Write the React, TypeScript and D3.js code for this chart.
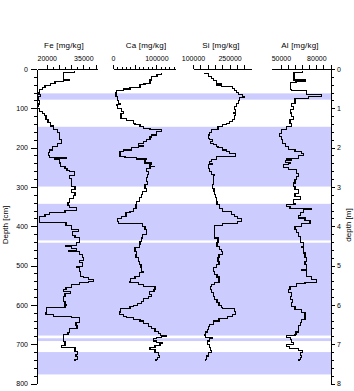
import { useEffect, useRef } from 'react';
import * as d3 from 'd3';

type Sample = [number, number]; // [depth cm, mg/kg]

const feProfile: Sample[] = [
  [6, 31200], [8, 26800], [27, 29500], [30, 26800], [32, 23400], [38, 21600], [43, 19300], [48, 18300],
  [53, 16900], [61, 16400], [66, 17600], [71, 16400], [81, 17200], [89, 16400], [96, 16300], [101, 17200],
  [107, 18300], [114, 18900], [119, 19700], [129, 20500], [137, 21600], [145, 22700], [155, 24300], [162, 25100],
  [173, 25400], [180, 26100], [190, 24500], [198, 22400], [206, 21300], [213, 20600], [221, 21300], [226, 27900],
  [228, 23400], [231, 25400], [239, 25800], [249, 27500], [254, 28300], [259, 29500], [261, 31300], [272, 29500],
  [279, 30200], [299, 31600], [307, 30000], [315, 31600], [322, 30800], [330, 29500], [340, 28700], [348, 29500],
  [352, 32300], [360, 27500], [365, 21300], [371, 19300], [376, 16900], [391, 27900], [398, 30200], [409, 32900],
  [414, 30400], [424, 31600], [429, 33600], [442, 32300], [449, 27900], [451, 30200], [457, 32300], [462, 29100],
  [464, 33600], [472, 34500], [480, 34900], [487, 33600], [492, 34700], [503, 32400], [506, 33600], [515, 33900],
  [527, 35000], [530, 37000], [536, 39100], [541, 37000], [544, 33500], [548, 30200], [556, 27900], [561, 26700],
  [566, 29800], [571, 27500], [579, 26800], [591, 27500], [599, 28200], [602, 27500], [607, 20000], [619, 19700],
  [624, 22700], [629, 30200], [633, 33600], [640, 33500], [645, 32000], [652, 32400], [660, 29500], [670, 28700],
  [675, 26800], [693, 27500], [703, 26100], [708, 31600], [718, 32500], [726, 32000], [731, 32500], [739, 31600],
  [743, 31600],
];

const caProfile: Sample[] = [
  [9, 112300], [15, 101500], [20, 89200], [28, 85300], [36, 69900], [38, 73800], [40, 62300], [46, 39200],
  [51, 23800], [55, 8500], [60, 6900], [70, 9900], [79, 12200], [87, 16100], [91, 8500], [93, 11000],
  [100, 20100], [108, 23800], [113, 18500], [125, 31600], [131, 46800], [138, 50700], [142, 62300], [146, 69900],
  [151, 85300], [155, 112300], [159, 100800], [168, 89200], [173, 85300], [180, 77700], [184, 69900], [190, 58300],
  [195, 70000], [197, 58300], [199, 43100], [206, 23800], [210, 16100], [222, 27700], [225, 54700], [227, 77700],
  [229, 54700], [231, 73800], [239, 89200], [244, 85300], [247, 95000], [249, 85300], [252, 77700], [261, 81400],
  [269, 80000], [277, 77700], [286, 80000], [294, 73800], [303, 77700], [311, 68500], [320, 66200], [328, 60600],
  [337, 54700], [345, 53000], [354, 46800], [362, 39200], [366, 30000], [375, 20100], [381, 9900], [387, 12200],
  [392, 68500], [400, 73800], [409, 77000], [421, 68500], [430, 66200], [438, 62300], [447, 60600], [455, 50700],
  [464, 54700], [472, 53000], [480, 58300], [489, 60600], [497, 64600], [506, 66200], [514, 69900], [518, 60600],
  [527, 50700], [534, 40800], [540, 39200], [544, 58300], [548, 69900], [553, 96900], [561, 94500], [565, 83700],
  [574, 89200], [579, 81400], [584, 69900], [591, 66200], [596, 56000], [602, 46800], [605, 39200], [610, 17800],
  [618, 14500], [624, 23800], [630, 31600], [633, 46800], [637, 62300], [641, 69900], [647, 81400], [654, 89200],
  [661, 96900], [667, 104500], [673, 110000], [679, 123800], [681, 112300], [684, 100800], [686, 92900], [692, 100800],
  [696, 115000], [698, 108400], [703, 96900], [709, 85300], [713, 96900], [720, 104500], [728, 106800], [734, 102000],
  [740, 99200], [743, 99200],
];

const siProfile: Sample[] = [
  [9, 148600], [12, 162000], [20, 175800], [24, 182300], [30, 196000], [38, 216300], [40, 196000], [41, 216300],
  [45, 263300], [49, 270200], [55, 279500], [59, 287600], [64, 303800], [69, 310700], [73, 290400], [79, 287600],
  [87, 277100], [96, 270200], [104, 274200], [110, 265000], [113, 274200], [119, 270200], [128, 263300], [134, 249900],
  [138, 236600], [142, 222800], [146, 202500], [155, 175800], [162, 166000], [168, 162000], [176, 168900], [180, 179800],
  [185, 171700], [189, 182300], [193, 196000], [197, 202500], [199, 220000], [201, 222800], [206, 236600], [210, 249900],
  [216, 274200], [223, 196000], [231, 175800], [235, 166000], [241, 181000], [244, 162000], [252, 168900], [261, 175800],
  [269, 190000], [272, 182300], [294, 179800], [303, 186300], [311, 189100], [320, 192000], [328, 196000], [337, 198500],
  [345, 209400], [354, 222800], [362, 256800], [371, 270200], [376, 283600], [381, 297300], [387, 283600], [392, 222800],
  [398, 189100], [430, 202500], [442, 198500], [451, 209400], [458, 216300], [464, 222800], [472, 206600], [480, 202500],
  [489, 206600], [497, 196000], [506, 182300], [514, 189100], [523, 198500], [529, 206600], [542, 189100], [548, 175800],
  [553, 171700], [561, 175800], [569, 182300], [578, 189100], [586, 198500], [595, 206600], [602, 216300], [607, 222800],
  [610, 270200], [616, 274200], [624, 263300], [630, 243000], [635, 206600], [641, 182300], [650, 168900], [656, 162000],
  [662, 157900], [669, 152700], [675, 148600], [679, 152700], [682, 179800], [686, 168900], [692, 157900], [701, 166000],
  [709, 171700], [715, 175800], [722, 162000], [730, 155500], [739, 152700], [743, 152700],
];

const alProfile: Sample[] = [
  [6, 68400], [8, 61900], [10, 61100], [28, 70400], [32, 62800], [35, 58300], [53, 59100], [55, 71800],
  [64, 84500], [71, 73200], [74, 61900], [87, 59100], [96, 60500], [104, 58300], [112, 59100], [121, 60500],
  [129, 57700], [138, 59100], [146, 54900], [155, 50700], [163, 48600], [172, 50700], [180, 51500], [189, 53500],
  [197, 56300], [204, 61900], [210, 67600], [216, 69000], [221, 64700], [227, 55000], [229, 59100], [233, 53500],
  [238, 58000], [240, 56300], [244, 52000], [250, 56300], [256, 63400], [265, 64700], [273, 63400], [282, 61900],
  [290, 60500], [299, 61900], [307, 64700], [316, 61900], [324, 66200], [332, 60500], [341, 61900], [345, 55000],
  [349, 57700], [354, 76100], [358, 69000], [366, 66200], [373, 64700], [379, 70400], [385, 74600], [392, 67600],
  [400, 61900], [409, 63400], [417, 64700], [426, 66200], [442, 69000], [451, 67600], [455, 69000], [468, 70400],
  [480, 71800], [489, 70400], [497, 71800], [510, 67600], [513, 71800], [527, 76100], [536, 80300], [542, 70400],
  [546, 63400], [553, 57700], [561, 56300], [569, 59100], [578, 58300], [586, 60000], [595, 59100], [603, 61900],
  [612, 67600], [620, 70400], [637, 67600], [645, 66200], [652, 64700], [669, 62800], [675, 61900], [679, 54900],
  [682, 58000], [688, 59100], [696, 60500], [701, 54900], [706, 56900], [712, 64700], [715, 68000], [722, 66200],
  [728, 67600], [734, 66200], [740, 65300], [743, 65300],
];

const bandTops = [62, 147, 343, 442, 685, 720];
const bandBottoms = [78, 299, 436, 678, 692, 777];
const depthLabels = [0, 100, 200, 300, 400, 500, 600, 700, 800];
const meterLabels = [0, 1, 2, 3, 4, 5, 6, 7, 8];

const panels = [
  { title: 'Fe [mg/kg]', data: feProfile, domain: [16000, 40600], left: 37, right: 97, labels: [20000, 35000], first: 20000, step: 2500, major: 5000, titleX: 64 },
  { title: 'Ca [mg/kg]', data: caProfile, domain: [0, 143000], left: 113, right: 175, labels: [0, 100000], first: 0, step: 10000, major: 50000, titleX: 146 },
  { title: 'Si [mg/kg]', data: siProfile, domain: [100000, 338000], left: 193, right: 251, labels: [100000, 250000], first: 100000, step: 30000, major: 30000, titleX: 221 },
  { title: 'Al [mg/kg]', data: alProfile, domain: [41600, 92400], left: 271, right: 331, labels: [50000, 80000], first: 50000, step: 6000, major: 6000, titleX: 300 },
];

const FONT = 'Liberation Sans, Arial, sans-serif';

export default function App() {
  const svgRef = useRef<SVGSVGElement | null>(null);

  useEffect(() => {
    if (!svgRef.current) return;
    const svg = d3.select(svgRef.current);
    svg.selectAll('*').remove();

    const width = 354;
    const height = 391;
    const top = 69;
    const bottom = 383.5;
    const axisL = 37;
    const axisR = 331;

    svg.attr('width', width).attr('height', height).attr('viewBox', `0 0 ${width} ${height}`);
    svg.append('rect').attr('width', width).attr('height', height).attr('fill', '#fff');

    const y = d3.scaleLinear().domain([0, 800]).range([top, bottom]);
    const yM = d3.scaleLinear().domain([0, 8]).range([top, bottom]);

    // shaded depth intervals
    svg
      .append('g')
      .selectAll('rect')
      .data(bandTops)
      .join('rect')
      .attr('x', axisL)
      .attr('width', axisR - axisL)
      .attr('y', (d) => y(d))
      .attr('height', (d, i) => y(bandBottoms[i]) - y(d))
      .attr('fill', '#ccccff');

    const styleAxis = (g: d3.Selection<SVGGElement, unknown, null, undefined>) => {
      g.attr('font-family', FONT).attr('font-size', 7);
      g.selectAll('line').attr('stroke', '#000').attr('shape-rendering', 'crispEdges');
      g.select('.domain').attr('stroke', '#000').attr('shape-rendering', 'crispEdges');
      g.selectAll('text').attr('fill', '#000');
    };

    // left depth axis (cm)
    const minorCm = d3.range(0, 801, 20);
    const leftMinor = svg
      .append('g')
      .attr('transform', `translate(${axisL},0)`)
      .call(d3.axisLeft(y).tickValues(minorCm).tickSize(3).tickSizeOuter(0).tickFormat(() => ''));
    styleAxis(leftMinor);
    const leftMajor = svg
      .append('g')
      .attr('transform', `translate(${axisL},0)`)
      .call(d3.axisLeft(y).tickValues(depthLabels).tickSize(6).tickSizeOuter(0).tickPadding(3).tickFormat((d) => String(d)));
    styleAxis(leftMajor);

    // right depth axis (m)
    const minorM = d3.range(0, 8.01, 0.2);
    const rightMinor = svg
      .append('g')
      .attr('transform', `translate(${axisR},0)`)
      .call(d3.axisRight(yM).tickValues(minorM).tickSize(2.5).tickSizeOuter(0).tickFormat(() => ''));
    styleAxis(rightMinor);
    const rightMajor = svg
      .append('g')
      .attr('transform', `translate(${axisR},0)`)
      .call(d3.axisRight(yM).tickValues(meterLabels).tickSize(4).tickSizeOuter(0).tickPadding(2).tickFormat((d) => String(d)));
    styleAxis(rightMajor);

    svg
      .append('text')
      .attr('transform', `translate(8,225) rotate(-90)`)
      .attr('text-anchor', 'middle')
      .attr('font-family', FONT)
      .attr('font-size', 8)
      .text('Depth [cm]');
    svg
      .append('text')
      .attr('transform', `translate(351,225) rotate(-90)`)
      .attr('text-anchor', 'middle')
      .attr('font-family', FONT)
      .attr('font-size', 8)
      .text('depth [m]');

    panels.forEach((p) => {
      const x = d3.scaleLinear().domain(p.domain).range([p.left, p.right]);
      const ticks = d3.range(p.first, p.domain[1], p.step);

      const minor = svg
        .append('g')
        .attr('transform', `translate(0,${top})`)
        .call(d3.axisTop(x).tickValues(ticks).tickSize(2.5).tickSizeOuter(0).tickFormat(() => ''));
      styleAxis(minor);
      minor.selectAll<SVGGElement, number>('.tick').filter((d) => Math.round(d - p.first) % p.major === 0).select('line').attr('y2', -4.5);

      const lab = svg
        .append('g')
        .attr('transform', `translate(0,${top})`)
        .call(d3.axisTop(x).tickValues(p.labels).tickSize(4.5).tickSizeOuter(0).tickPadding(4).tickFormat((d) => String(d)));
      styleAxis(lab);
      lab.select('.domain').remove();

      svg
        .append('text')
        .attr('x', p.titleX)
        .attr('y', 48)
        .attr('text-anchor', 'middle')
        .attr('font-family', FONT)
        .attr('font-size', 8)
        .attr('letter-spacing', 0.2)
        .text(p.title);

      const line = d3
        .line<Sample>()
        .x((d) => x(d[1]))
        .y((d) => y(d[0]))
        .curve(d3.curveStepBefore);

      svg
        .append('path')
        .datum(p.data)
        .attr('d', line)
        .attr('fill', 'none')
        .attr('stroke', '#000')
        .attr('stroke-width', 1.1)
        .attr('shape-rendering', 'crispEdges');
    });
  }, []);

  return <svg ref={svgRef} style={{ position: 'absolute', left: 0, top: 0 }} />;
}
